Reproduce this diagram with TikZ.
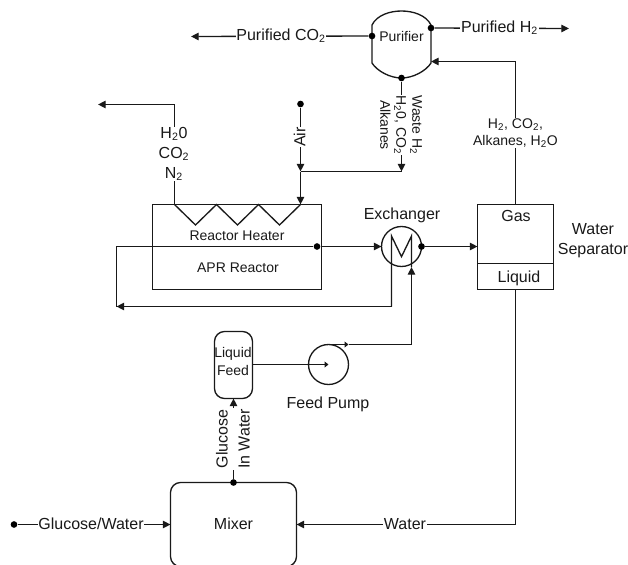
\documentclass[tikz,border=0pt]{standalone}
\usepackage{fontspec}
\setmainfont{Liberation Sans}
\usetikzlibrary{arrows.meta,positioning,calc}
\newcommand{\subtwo}{\textsubscript{2}}
\tikzset{
  x=0.75pt,y=-0.75pt,
  line/.style={line width=1pt,draw=black!90},
  flow/.style={line,-{Triangle[length=5.8pt,width=5.6pt]}},
  tinyflow/.style={line,-{Triangle[length=3pt,width=4.4pt]}},
  box/.style={line,draw,rectangle,inner sep=0pt,outer sep=0pt,anchor=north west},
  rbox/.style={box,rounded corners=7.5pt},
  circ/.style={line,draw,circle,inner sep=0pt,outer sep=0pt,minimum size=30pt},
  dot/.style={circle,fill=black,inner sep=0pt,minimum size=5pt},
  lab/.style={font=\fontsize{12}{14}\selectfont,text=black!90,inner sep=0.5pt,align=center},
  small/.style={font=\fontsize{10.5}{12}\selectfont,text=black!90,inner sep=0.5pt,align=center},
  gaplab/.style={lab,fill=white},
  gapsmall/.style={small,fill=white},
}
\begin{document}
\begin{tikzpicture}
\useasboundingbox (0,0) rectangle (628,564);
\clip (0,0) rectangle (628,564);
% equipment
\node[box,minimum width=126.75pt,minimum height=63.75pt] (reactor) at (152.5,204.5) {};
\node[box,minimum width=57pt,minimum height=63.75pt] (sep) at (477.5,204.5) {};
\coordinate (sepL) at (477.5,263.5); \coordinate (sepR) at (553.5,263.5);
\draw[line] (sepL) -- (sepR);
\node[circ] (exch) at (401.5,246.5) {};
\node[circ] (pump) at (328.5,364.5) {};
\node[rbox,minimum width=28.5pt,minimum height=50.25pt] (feed) at (214.5,331.5) {};
\node[rbox,minimum width=94.5pt,minimum height=63pt] (mixer) at (170.5,482.5) {};
% purifier
\coordinate (pTL) at (372,25); \coordinate (pTR) at (431,25);
\coordinate (pBL) at (372,63); \coordinate (pBR) at (431,63);
\draw[line] (pTL) .. controls (377,15) and (390,11) .. (401.5,11)
  .. controls (413,11) and (426,15) .. (pTR) -- (pBR)
  .. controls (426,71) and (413,78) .. (401.5,78)
  .. controls (390,78) and (377,71) .. (pBL) -- cycle;
\node[small] (purifier) at (401.5,36) {Purifier};
\node[dot] (pL) at (372,36) {};
\node[dot] (pR) at (431,28) {};
\node[dot] (pB) at (401.5,78) {};
\coordinate (pIn) at (431,61.5);
% zigzag
\coordinate (z0) at (174.5,204.5); \coordinate (z6) at (300.5,204.5);
\draw[line] (z0) -- (195.5,225) -- (216.5,204.5) -- (237.5,225) -- (258.5,204.5) -- (279.5,225) -- (z6);
% purifier connectors
\coordinate (co2end) at (191,36.5);
\coordinate (h2end) at (569,28.5);
\draw[flow] (pL) -- (co2end);
\draw[flow] (pR) -- (h2end);
\coordinate (sepUp) at (515.5,61.5);
\draw[line] (sep.north -| sepUp) -- (sepUp);
\draw[flow] (sepUp) -- (pIn);
\coordinate (wasteEnd) at (401.5,171.5);
\draw[flow] (pB) -- (wasteEnd);
% air
\node[dot] (airTop) at (300.5,104) {};
\coordinate (airJ) at (300.5,171.5);
\draw[flow] (airTop) -- (airJ);
\draw[flow] (airJ) -- (z6);
\draw[line] (airJ) -- (wasteEnd);
% flue
\coordinate (flueC) at (174.5,104.5);
\coordinate (flueEnd) at (98,104.5);
\draw[line] (z0) -- (flueC);
\draw[flow] (flueC) -- (flueEnd);
% reactor loop
\coordinate (loopTL) at (116.5,246.5); \coordinate (loopBL) at (116.5,306.5);
\coordinate (exL) at (381.5,246.5); \coordinate (exDown) at (391.5,306.5);
\node[dot] (hOut) at (317,246.5) {};
\draw[flow] (hOut) -- (exL);
\draw[line] (hOut) -- (loopTL) -- (loopBL);
\coordinate (mLT) at (391.5,236);\coordinate (mM) at (401.5,256.7);\coordinate (mRT) at (411.5,236);
\draw[line] (exDown) -- (mLT) -- (mM) -- (mRT) -- (411.5,267);
\draw[flow] (exDown) -- (loopBL);
% exchanger to separator
\node[dot] (exOut) at (421.5,246.5) {};
\draw[flow] (exOut) -- (sep.west |- exOut);
% pump
\coordinate (pumpC) at (pump.center);
\draw[tinyflow] (feed.east |- pumpC) -- (pumpC);
\coordinate (pumpT) at (328.5,344.5);
\coordinate (corner) at (411.5,344.5);
\coordinate (tick) at (348.5,344.5);
\draw[tinyflow] (pumpT) -- (tick);
\draw[line] (tick) -- (corner);
\draw[flow] (corner) -- (411.5,267);
% glucose
\node[dot] (mixT) at (233.5,482.5) {};
\draw[flow] (mixT) -- (mixT |- feed.south);
\node[dot] (gwStart) at (14,524.5) {};
\draw[flow] (gwStart) -- (mixer.west |- gwStart);
\coordinate (wBend) at (515.5,524.5);
\draw[line] (sep.south -| wBend) -- (wBend);
\draw[flow] (wBend) -- (mixer.east |- wBend);
% labels
\node[gaplab] (lco2) at (281,36) {Purified CO\subtwo};
\node[gaplab] (lh2) at (499.5,28) {Purified H\subtwo};
\node[gapsmall] (lgas) at (515.5,133) {H\subtwo, CO\subtwo,\\[1pt]Alkanes, H\subtwo O};
\node[gaplab,rotate=90] (lair) at (299.5,137) {Air};
\node[gapsmall,rotate=-90,anchor=center] (lwaste) at (401,125) {Waste H\subtwo\\H\subtwo 0, CO\subtwo\\Alkanes};
\node[gaplab] (lflue) at (174,154) {H\subtwo 0\\[1pt]CO\subtwo\\[1pt]N\subtwo};
\node[small] (lheater) at (237,236) {Reactor Heater};
\node[small] (lapr) at (238,268) {APR Reactor};
\node[lab] (lexch) at (402,215) {Exchanger};
\node[lab] (lgasb) at (516,216) {Gas};
\node[lab] (lliq) at (519,278) {Liquid};
\node[lab] (lsep) at (593,241) {Water\\[1pt]Separator};
\node[small,font=\fontsize{10.5}{13.5}\selectfont] (lfeed) at (233,361) {Liquid\\Feed};
\node[lab] (lpump) at (328,404) {Feed Pump};
\node[gaplab,rotate=90,font=\fontsize{12}{16.5}\selectfont] (lglu) at (233,439) {Glucose\\In Water};
\node[lab] (lmix) at (233.5,524) {Mixer};
\node[gaplab] (lgw) at (91,524) {Glucose/Water};
\node[gaplab] (lw) at (405,524) {Water};
\end{tikzpicture}
\end{document}
